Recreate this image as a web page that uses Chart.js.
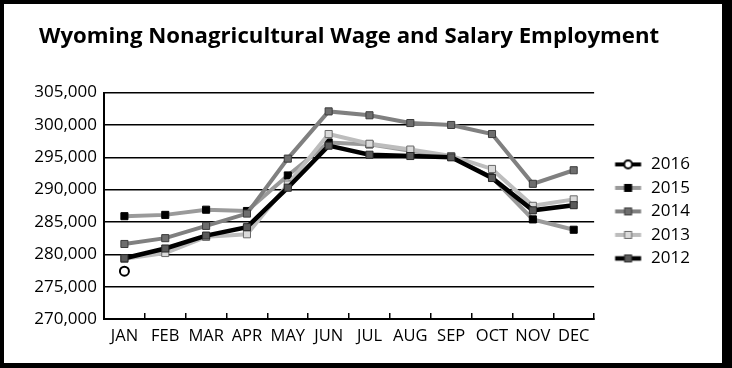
<!DOCTYPE html>
<html><head><meta charset="utf-8">
<script src="https://cdn.jsdelivr.net/npm/chart.js@4/dist/chart.umd.min.js"></script>
<style>
html,body{margin:0;padding:0;background:#fff;}
#frame{box-sizing:border-box;width:732px;height:368px;border-style:solid;border-color:#000;border-width:4px 10px 5px 4px;background:#fff;}
#c{display:block;}
</style></head><body>
<div id="frame"><canvas id="c" width="718" height="359"></canvas></div>
<script>
const titleText = 'Wyoming Nonagricultural Wage and Salary Employment';
const months = ['JAN','FEB','MAR','APR','MAY','JUN','JUL','AUG','SEP','OCT','NOV','DEC'];
const yTickValues = [270000, 275000, 280000, 285000, 290000, 295000, 300000, 305000];
const seriesNames = ['2016', '2015', '2014', '2013', '2012'];
const y2016 = [277400, null, null, null, null, null, null, null, null, null, null, null];
const y2015 = [285900, 286100, 286900, 286700, 292200, 297300, 297000, 296000, 295100, 291900, 285400, 283800];
const y2014 = [281600, 282500, 284400, 286300, 294800, 302100, 301500, 300300, 300000, 298600, 290900, 293000];
const y2013 = [279300, 280200, 282700, 283100, 290800, 298600, 297100, 296200, 295200, 293200, 287500, 288500];
const y2012 = [279400, 280900, 282900, 284200, 290300, 296800, 295400, 295200, 295000, 291800, 286800, 287600];

const FONT = "'Open Sans', sans-serif";

const styles = [
  {line:'#000000', lw:2.5, fill:'#ffffff', border:'#000000', bw:2, shape:'circle', r:4.5, showLine:false, order:0},
  {line:'#9a9a9a', lw:4, fill:'#000000', border:'#000000', bw:1, shape:'rect', r:5, showLine:true, order:4},
  {line:'#808080', lw:4, fill:'#6e6e6e', border:'#3c3c3c', bw:1, shape:'rect', r:5, showLine:true, order:3},
  {line:'#bdbdbd', lw:4, fill:'#dadada', border:'#6a6a6a', bw:1, shape:'rect', r:5, showLine:true, order:2},
  {line:'#000000', lw:4.5, fill:'#5a5a5a', border:'#2a2a2a', bw:1, shape:'rect', r:5, showLine:true, order:1}
];
const seriesData = [y2016, y2015, y2014, y2013, y2012];

function makeIcon(s) {
  const cv = document.createElement('canvas');
  cv.width = 42; cv.height = 14;
  const g = cv.getContext('2d');
  g.strokeStyle = s.line; g.lineWidth = (s.shape === 'circle') ? 4 : s.lw;
  g.beginPath(); g.moveTo(14.5, 7); g.lineTo(40.5, 7); g.stroke();
  g.fillStyle = s.fill; g.strokeStyle = s.border; g.lineWidth = s.bw;
  if (s.shape === 'circle') {
    g.beginPath(); g.arc(27.5, 7, 4, 0, Math.PI*2); g.fill(); g.stroke();
  } else {
    g.fillRect(24, 3.5, 7, 7); g.strokeRect(24, 3.5, 7, 7);
  }
  return cv;
}
const icons = styles.map(makeIcon);

const datasets = seriesNames.map((name, i) => ({
  label: name,
  data: seriesData[i],
  borderColor: styles[i].line,
  borderWidth: styles[i].lw,
  showLine: styles[i].showLine,
  pointStyle: styles[i].shape,
  pointRadius: styles[i].r,
  pointHoverRadius: styles[i].r,
  pointBackgroundColor: styles[i].fill,
  pointBorderColor: styles[i].border,
  pointBorderWidth: styles[i].bw,
  tension: 0,
  spanGaps: false,
  order: styles[i].order
}));

const titleShift = {
  id: 'titleShift',
  afterLayout(chart) {
    if (chart.titleBlock) { chart.titleBlock.left += 5; chart.titleBlock.right += 5; }
  }
};

new Chart(document.getElementById('c'), {
  type: 'line',
  data: { labels: months, datasets },
  plugins: [titleShift],
  options: {
    responsive: false,
    animation: false,
    events: [],
    layout: { padding: { left: 30, right: 22, top: 0, bottom: 14 } },
    plugins: {
      tooltip: { enabled: false },
      title: {
        display: true, text: titleText, align: 'start', color: '#000',
        font: { family: FONT, size: 22.2, weight: 'bold' },
        padding: { top: 19, bottom: 43 }
      },
      legend: {
        display: true, position: 'right', align: 'center', fullSize: false,
        title: { display: true, text: '', font: { size: 1 }, padding: { top: 5, bottom: 5 } },
        labels: {
          usePointStyle: true, pointStyleWidth: 42, padding: 6.5, color: '#000',
          font: { family: FONT, size: 17 },
          generateLabels: (chart) => chart.data.datasets.map((d, i) => ({
            text: d.label, pointStyle: icons[i], datasetIndex: i, fontColor: '#000',
            fillStyle: 'rgba(0,0,0,0)', strokeStyle: 'rgba(0,0,0,0)', lineWidth: 0, hidden: false
          }))
        }
      }
    },
    scales: {
      x: {
        offset: true,
        grid: { offset: true, drawOnChartArea: false, drawTicks: true, tickLength: -6, color: '#000', lineWidth: 1.5 },
        border: { display: true, color: '#000', width: 2 },
        ticks: { color: '#000', font: { family: FONT, size: 16.5 }, padding: 13, autoSkip: false, maxRotation: 0, minRotation: 0 },
        afterFit: (s) => { s.height = 30; }
      },
      y: {
        min: 270000, max: 305000,
        afterBuildTicks: (s) => { s.ticks = yTickValues.map(v => ({ value: v })); },
        ticks: { color: '#000', font: { family: FONT, size: 17 }, padding: 7,
          callback: (v) => Number(v).toLocaleString('en-US') },
        grid: { color: '#000', lineWidth: 1.5, drawTicks: false },
        border: { display: true, color: '#000', width: 2 },
        afterFit: (s) => { s.width = 70; }
      }
    }
  }
});
</script>
</body></html>
